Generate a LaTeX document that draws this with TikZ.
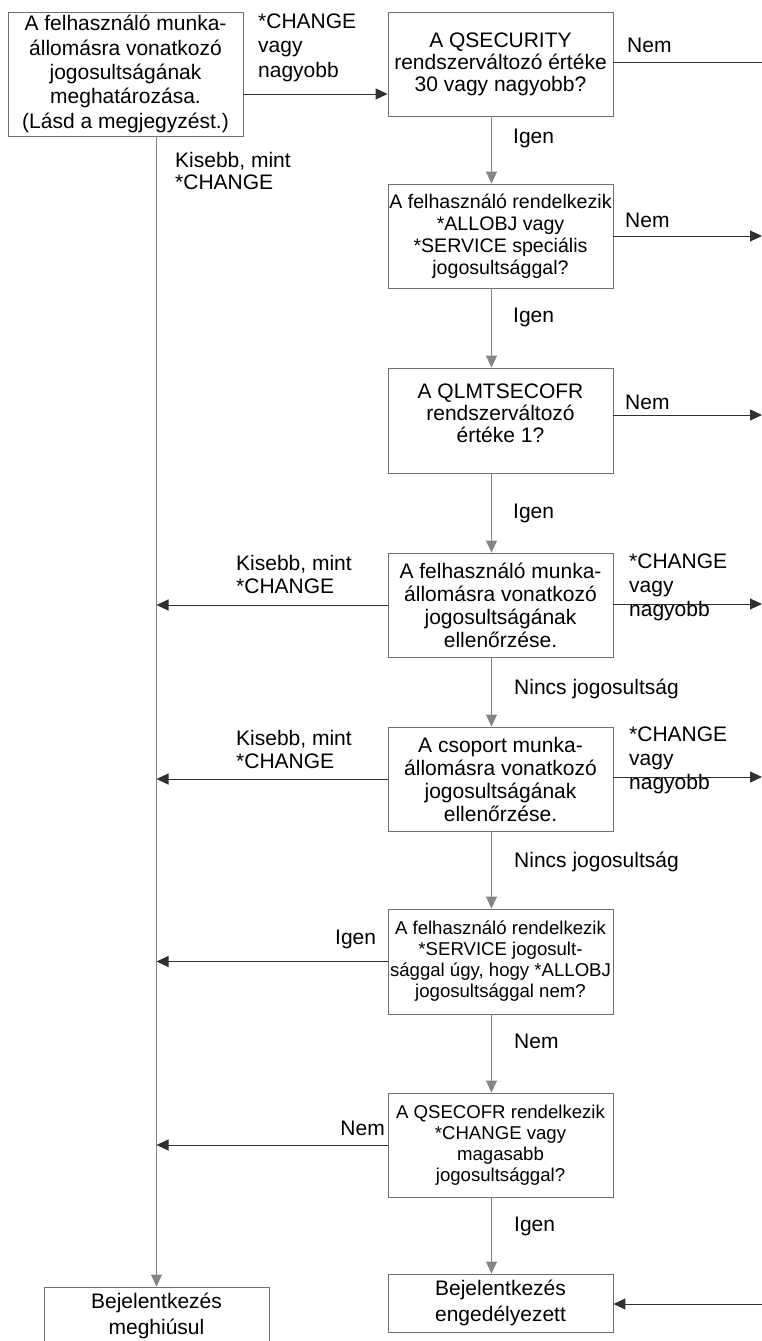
\documentclass[tikz,border=0pt]{standalone}
\usepackage{fontspec}
\setmainfont{Liberation Sans}
\usetikzlibrary{arrows.meta}
\definecolor{linegray}{HTML}{858585}
\definecolor{boxgray}{HTML}{707070}
\definecolor{arrowdark}{HTML}{303030}
\tikzset{
  stepbox/.style={draw=boxgray, line width=0.9pt, minimum width=225pt, minimum height=104pt,
    inner sep=0pt, align=center, font=\fontsize{21}{22}\selectfont},
  lbl/.style={anchor=west, align=left, inner sep=0pt, font=\fontsize{21}{22.5}\selectfont},
  down/.style={draw=linegray, line width=1pt, -{Triangle[length=12pt,width=11pt]}},
  side/.style={draw=arrowdark, line width=1pt, -{Triangle[length=12pt,width=11pt]}}
}
\begin{document}
\begin{tikzpicture}[x=1pt, y=-1pt]
\useasboundingbox (0,0) rectangle (762,1341);
\clip (0,0) rectangle (762,1341);

% Boxes
\node[stepbox, minimum width=235pt, minimum height=124pt, font=\fontsize{21}{24.3}\selectfont] (felh) at (125.5,74)
  {A felhasználó munka-\\állomásra vonatkozó\\jogosultságának\\meghatározása.\\(Lásd a megjegyzést.)};
\node[stepbox] (qsec) at (500.5,64) {A QSECURITY\\rendszerváltozó értéke\\30 vagy nagyobb?};
\node[stepbox, font=\fontsize{19.6}{22}\selectfont] (allobj) at (500.5,236)
  {A felhasználó rendelkezik\\*ALLOBJ vagy\\*SERVICE speciális\\jogosultsággal?};
\node[stepbox, minimum height=105pt] (qlmt) at (500.5,420.5) {A QLMTSECOFR\\rendszerváltozó\\értéke 1?\\[-8pt]};
\node[stepbox, font=\fontsize{21}{23}\selectfont] (wsusr) at (500.5,605) {A felhasználó munka-\\állomásra vonatkozó\\jogosultságának\\ellenőrzése.};
\node[stepbox, font=\fontsize{21}{23}\selectfont] (wsgrp) at (500.5,779) {A csoport munka-\\állomásra vonatkozó\\jogosultságának\\ellenőrzése.};
\node[stepbox, minimum height=105pt, font=\fontsize{18.6}{21}\selectfont] (svc) at (500.5,961.5)
  {A felhasználó rendelkezik\\*SERVICE jogosult-\\sággal úgy, hogy *ALLOBJ\\jogosultsággal nem?};
\node[stepbox, font=\fontsize{18.6}{21}\selectfont] (qsecofr) at (500.5,1145)
  {A QSECOFR rendelkezik\\*CHANGE vagy\\magasabb\\jogosultsággal?};
\node[stepbox, minimum height=58pt, font=\fontsize{21}{26}\selectfont] (ok) at (500.5,1303) {Bejelentkezés\\engedélyezett};
\node[stepbox, minimum height=58pt, font=\fontsize{21}{26}\selectfont] (fail) at (156.5,1316) {Bejelentkezés\\meghiúsul};

% Free ends at the right edge and the left spine
\coordinate (spine) at (156.5,136);
\coordinate (r0) at (762,62);
\coordinate (r1) at (762,236);
\coordinate (r2) at (762,415);
\coordinate (r3) at (762,604);
\coordinate (r4) at (762,777);
\coordinate (r5) at (762,1304);

% Main column
\draw[side] ([yshift=-20pt]felh.east) -- ([yshift=-20pt]felh.east -| qsec.west);
\foreach \a/\b in {qsec/allobj, allobj/qlmt, qlmt/wsusr, wsusr/wsgrp, wsgrp/svc, svc/qsecofr, qsecofr/ok}
  \draw[down] ([xshift=-9pt]\a.south) -- ([xshift=-9pt]\b.north);
\draw[down] (spine) -- (fail.north);

% Exits to the right
\draw[draw=arrowdark, line width=1pt] (qsec.east |- r0) -- (r0);
\foreach \b/\r in {allobj/r1, qlmt/r2, wsusr/r3, wsgrp/r4}
  \draw[side] (\b.east |- \r) -- (\r);
\draw[side] (r5) -- (ok.east |- r5);

% Exits to the left
\foreach \b in {wsusr, wsgrp, svc, qsecofr}
  \draw[side] (\b.west) -- (\b.west -| spine);

% Labels
\node[lbl, font=\fontsize{21}{24.5}\selectfont] (l1) at (258,47.5) {*CHANGE\\vagy\\nagyobb};
\node[lbl] (l2) at (175,171) {Kisebb, mint\\*CHANGE};
\node[lbl] (l3) at (627,45) {Nem};
\node[lbl] (l4) at (513,138) {Igen};
\node[lbl] (l5) at (625,220) {Nem};
\node[lbl] (l6) at (513,317) {Igen};
\node[lbl] (l7) at (625,402) {Nem};
\node[lbl] (l8) at (513,513) {Igen};
\node[lbl] (l9) at (236,574.5) {Kisebb, mint\\*CHANGE};
\node[lbl, font=\fontsize{21}{24}\selectfont] (l10) at (629,587) {*CHANGE\\vagy\\nagyobb};
\node[lbl] (l11) at (514,689) {Nincs jogosultság};
\node[lbl] (l12) at (236,749.5) {Kisebb, mint\\*CHANGE};
\node[lbl, font=\fontsize{21}{24}\selectfont] (l13) at (629,760) {*CHANGE\\vagy\\nagyobb};
\node[lbl] (l14) at (514,862) {Nincs jogosultság};
\node[lbl] (l15) at (335,939) {Igen};
\node[lbl] (l16) at (514,1041) {Nem};
\node[lbl, anchor=east] (l17) at (385,1128) {Nem};
\node[lbl] (l18) at (514,1226) {Igen};
\end{tikzpicture}
\end{document}
